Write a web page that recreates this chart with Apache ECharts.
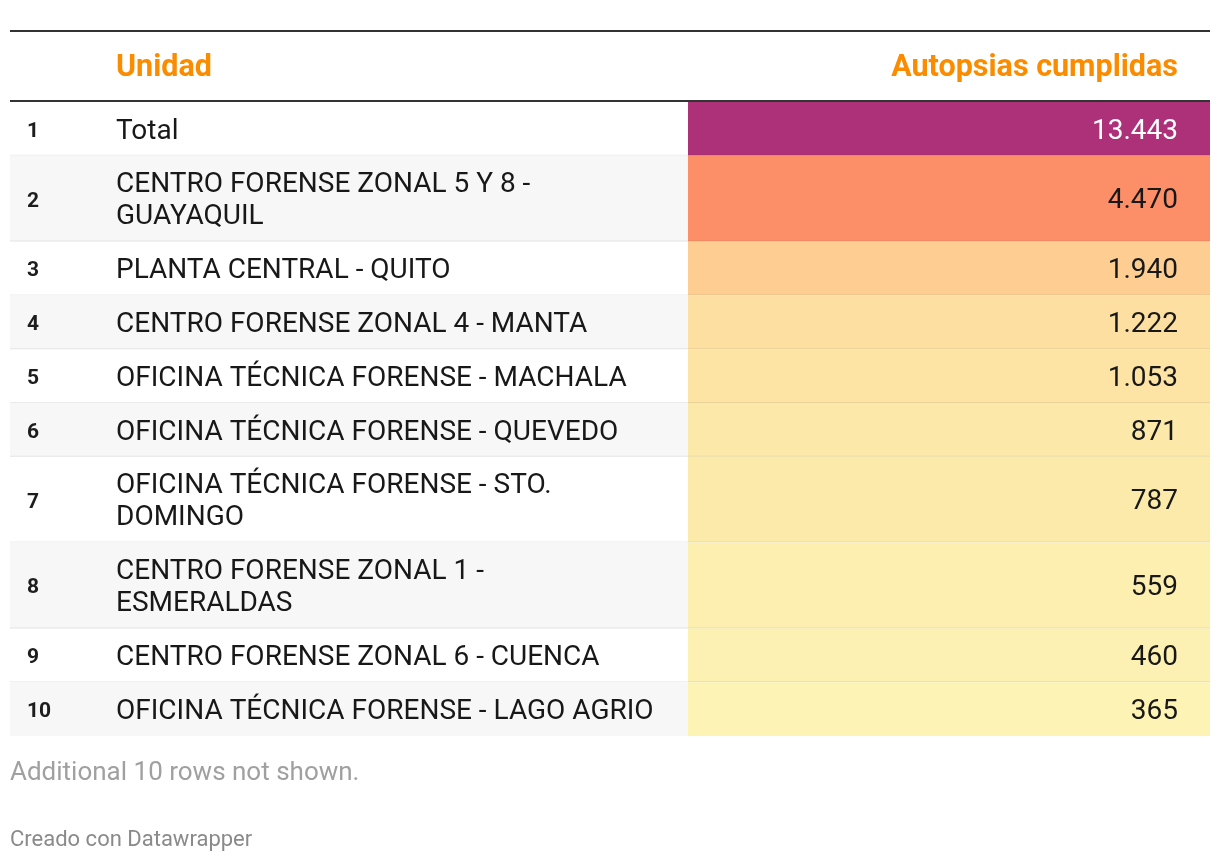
<!DOCTYPE html>
<html>
<head>
<meta charset="utf-8">
<script src="https://cdn.jsdelivr.net/npm/echarts@6/dist/echarts.min.js"></script>
<style>
html,body{margin:0;padding:0;background:#fff;}
#chart{width:1220px;height:862px;}
</style>
</head>
<body>
<div id="chart"></div>
<script>
// ---- data ----
const columns = ['Unidad', 'Autopsias cumplidas'];
const units = [
  'Total',
  'CENTRO FORENSE ZONAL 5 Y 8 -\nGUAYAQUIL',
  'PLANTA CENTRAL - QUITO',
  'CENTRO FORENSE ZONAL 4 - MANTA',
  'OFICINA TÉCNICA FORENSE - MACHALA',
  'OFICINA TÉCNICA FORENSE - QUEVEDO',
  'OFICINA TÉCNICA FORENSE - STO.\nDOMINGO',
  'CENTRO FORENSE ZONAL 1 -\nESMERALDAS',
  'CENTRO FORENSE ZONAL 6 - CUENCA',
  'OFICINA TÉCNICA FORENSE - LAGO AGRIO'
];
const autopsias = [13443, 4470, 1940, 1222, 1053, 871, 787, 559, 460, 365];
const note = 'Additional 10 rows not shown.';
const credit = 'Creado con Datawrapper';

// ---- layout / style ----
const ROW_PAD = 21.8, LINE_H = 32;
const FONT = 'Roboto';
const TEXT_DY = 2.7;
const colorStops = [[0, '#fbfbbc'], [0.0909, '#fde0a1'], [0.1443, '#fdcd92'], [0.3325, '#fc8f68'], [1, '#ac3178']];
const maxVal = Math.max(...autopsias);
function cellColor(v) {
  const f = v / maxVal;
  for (let i = 1; i < colorStops.length; i++) {
    if (f <= colorStops[i][0]) {
      const a = colorStops[i - 1], b = colorStops[i];
      const t = (f - a[0]) / (b[0] - a[0]);
      return echarts.color.lerp(t, [a[1], b[1]]);
    }
  }
  return colorStops[colorStops.length - 1][1];
}
function fmt(v) { return String(v).replace(/\B(?=(\d{3})+(?!\d))/g, '.'); }

let acc = 0;
const rows = units.map((u, i) => {
  const lines = u.split('\n').length;
  const h = ROW_PAD + LINE_H * lines;
  const r = { value: [acc, acc + h, i, autopsias[i]] };
  acc += h;
  return r;
});
const totalH = acc;

const chart = echarts.init(document.getElementById('chart'), null, { renderer: 'canvas' });

function renderItem(params, api) {
  const start = api.value(0), end = api.value(1), i = api.value(2), v = api.value(3);
  const p0 = api.coord([0, start]);
  const p1 = api.coord([1200, end]);
  const pv = api.coord([678, start]);
  const top = p0[1], bot = p1[1], left = p0[0], right = p1[0];
  const mid = (top + bot) / 2 + TEXT_DY;
  const children = [];
  if (i % 2 === 1) {
    children.push({ type: 'rect', shape: { x: left, y: top, width: right - left, height: bot - top }, style: { fill: '#f7f7f7' } });
  }
  children.push({ type: 'rect', shape: { x: pv[0], y: top, width: right - pv[0], height: bot - top }, style: { fill: cellColor(v) } });
  if (i < units.length - 1) {
    children.push({ type: 'rect', shape: { x: left, y: bot - 1, width: right - left, height: 1 }, style: { fill: 'rgba(0,0,0,0.08)' } });
  }
  children.push({ type: 'text', style: { text: String(i + 1), x: left + 17, y: mid, align: 'left', verticalAlign: 'middle', fontFamily: FONT, fontWeight: 'bold', fontSize: 21, fill: '#1d1d1d' } });
  children.push({ type: 'text', style: { text: units[i], x: left + 106, y: mid, align: 'left', verticalAlign: 'middle', fontFamily: FONT, fontSize: 28, lineHeight: LINE_H, fill: '#181818' } });
  children.push({ type: 'text', style: { text: fmt(v), x: right - 32, y: mid, align: 'right', verticalAlign: 'middle', fontFamily: FONT, fontSize: 28, fill: v === maxVal ? '#ffffff' : '#181818' } });
  return { type: 'group', children };
}

chart.setOption({
  animation: false,
  grid: { left: 10, right: 10, top: 102, height: totalH },
  xAxis: { type: 'value', min: 0, max: 1200, show: false },
  yAxis: { type: 'value', min: 0, max: totalH, inverse: true, show: false },
  graphic: [
    { type: 'rect', shape: { x: 10, y: 30, width: 1200, height: 2 }, style: { fill: '#333' } },
    { type: 'rect', shape: { x: 10, y: 100, width: 1200, height: 2 }, style: { fill: '#333' } },
    { type: 'text', style: { text: columns[0], x: 116, y: 68, align: 'left', verticalAlign: 'middle', fontFamily: FONT, fontWeight: 'bold', fontSize: 30.5, fill: '#fb8c00' } },
    { type: 'text', style: { text: columns[1], x: 1178, y: 68, align: 'right', verticalAlign: 'middle', fontFamily: FONT, fontWeight: 'bold', fontSize: 30.5, fill: '#fb8c00' } },
    { type: 'text', style: { text: note, x: 10, y: 773, align: 'left', verticalAlign: 'middle', fontFamily: FONT, fontSize: 26, fill: '#a0a0a0' } },
    { type: 'text', style: { text: credit, x: 10, y: 840, align: 'left', verticalAlign: 'middle', fontFamily: FONT, fontSize: 22, fill: '#8a8a8a' } }
  ],
  series: [{
    type: 'custom',
    coordinateSystem: 'cartesian2d',
    renderItem,
    clip: false,
    encode: { x: [], y: [0, 1] },
    data: rows
  }]
});
</script>
</body>
</html>
